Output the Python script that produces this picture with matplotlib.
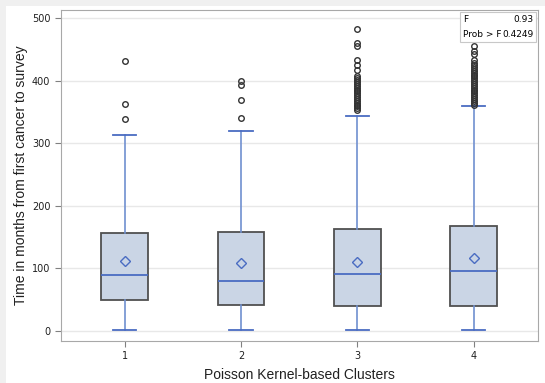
import matplotlib.pyplot as plt
from matplotlib.patches import Rectangle

# Box statistics (months)
clusters = ['1', '2', '3', '4']
q1 = [50, 42, 39.5, 40.5]
medians = [90, 79.5, 90.5, 96]
q3 = [157, 158, 162.5, 168]
means = [112, 108, 111, 116]
whisker_low = [1, 1, 1, 1]
whisker_high = [313, 320, 344, 359]
outliers = [
    [339, 363, 431],
    [341, 370, 394, 400],
    [353, 356, 359, 362, 365, 368, 371, 374, 377, 380, 383, 386, 389, 392,
     395, 398, 401, 404, 407, 417, 425, 434, 455, 461, 483],
    [362, 365, 368, 371, 374, 377, 380, 383, 386, 389, 392, 395, 398, 401,
     404, 407, 410, 413, 416, 419, 422, 425, 428, 434, 443, 448, 455],
]
f_value = '0.93'
prob_f = '0.4249'

narrow = ['Liberation Sans Narrow', 'DejaVu Sans']
plt.rcParams['font.family'] = ['Liberation Sans', 'DejaVu Sans']

fig = plt.figure(figsize=(5.45, 3.83), dpi=100, facecolor='#f0f0f0')
fig.patches.append(Rectangle((6 / 545, 0), 1, 1 - 6 / 383, transform=fig.transFigure,
                             facecolor='white', edgecolor='none', zorder=-10))
ax = fig.add_axes([60.7 / 545, 1 - 340.7 / 383, 477 / 545, 331.2 / 383])
ax.set_zorder(1)

stats = []
for i in range(len(clusters)):
    stats.append(dict(label=clusters[i], q1=q1[i], med=medians[i], q3=q3[i],
                      mean=means[i], whislo=whisker_low[i], whishi=whisker_high[i],
                      fliers=outliers[i]))

blue = '#4a6cc2'
ax.bxp(stats, positions=[1, 2, 3, 4], widths=0.40, patch_artist=True, showmeans=True,
       boxprops=dict(facecolor='#cad5e5', edgecolor='#505050', linewidth=1.3),
       medianprops=dict(color=blue, linewidth=1.3),
       whiskerprops=dict(color='#7090d0', linewidth=1.2),
       capprops=dict(color=blue, linewidth=1.3),
       capwidths=0.2,
       meanprops=dict(marker='D', markerfacecolor='none', markeredgecolor=blue,
                      markersize=5.5, markeredgewidth=1.0),
       flierprops=dict(marker='o', markerfacecolor='none', markeredgecolor='#333333',
                       markersize=4, markeredgewidth=1.0))

ax.set_xlim(0.45, 4.55)
ax.set_ylim(-15.5, 514)
ax.set_yticks([0, 100, 200, 300, 400, 500])
ax.grid(axis='y', color='#e8e8e8', linewidth=1.0)
ax.set_axisbelow(True)
for s in ax.spines.values():
    s.set_color('#a8a8a8')
ax.tick_params(colors='#808080', labelcolor='#202020', labelsize=7, length=4)
for lab in ax.get_xticklabels() + ax.get_yticklabels():
    lab.set_family(narrow)

ax.set_xlabel('Poisson Kernel-based Clusters', fontsize=10, color='#202020', labelpad=5)
ax.set_ylabel('Time in months from first cancer to survey', fontsize=10,
              color='#202020', labelpad=3)

# F statistic inset
ax.add_patch(Rectangle((0.837, 0.902), 0.159, 0.09, transform=ax.transAxes,
                       facecolor='white', edgecolor='#c8c8c8', linewidth=0.8, zorder=5))
ax.text(0.843, 0.970, 'F', transform=ax.transAxes, fontsize=6.5, va='center',
        family=narrow, zorder=6)
ax.text(0.992, 0.970, f_value, transform=ax.transAxes, fontsize=6.5, va='center',
        ha='right', family=narrow, zorder=6)
ax.text(0.843, 0.926, 'Prob > F', transform=ax.transAxes, fontsize=6.5, va='center',
        family=narrow, zorder=6)
ax.text(0.992, 0.926, prob_f, transform=ax.transAxes, fontsize=6.5, va='center',
        ha='right', family=narrow, zorder=6)

fig.savefig('out.png', dpi=100, facecolor=fig.get_facecolor())
